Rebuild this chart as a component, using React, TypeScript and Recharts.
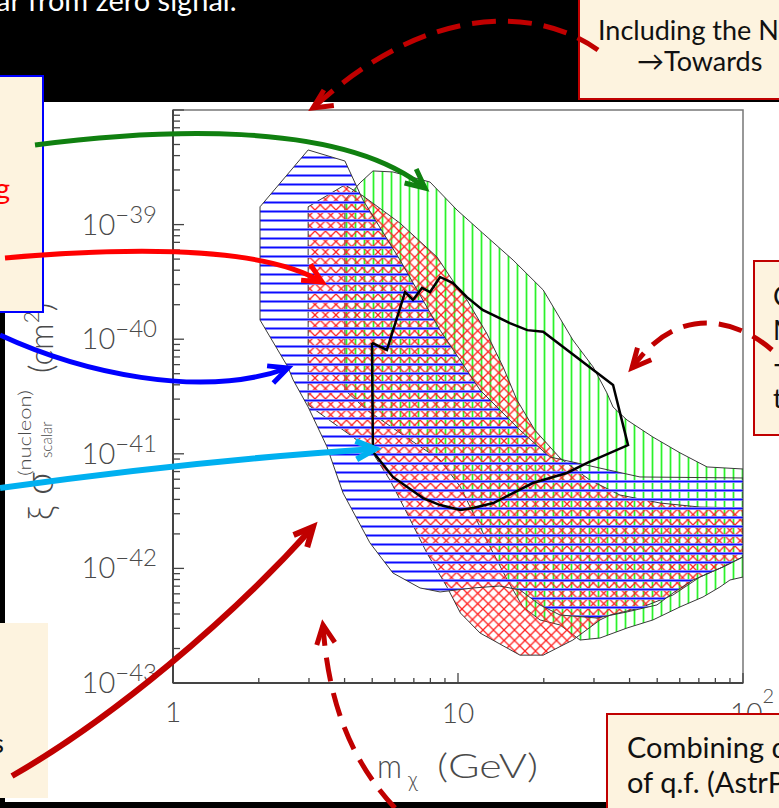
import React from "react";
import { ComposedChart, Scatter, XAxis, YAxis, ReferenceArea } from "recharts";

// region outlines: m = WIMP mass (GeV), s = xi * sigma (cm^2)
const greenRegion = [
  { m: 4.01, s: 1.64e-39 }, { m: 4.53, s: 2.31e-39 }, { m: 5.03, s: 2.94e-39 }, { m: 5.91, s: 2.88e-39 },
  { m: 7.98, s: 2.35e-39 }, { m: 9.92, s: 1.34e-39 }, { m: 12.2, s: 8.45e-40 }, { m: 15.6, s: 4.91e-40 },
  { m: 19.9, s: 2.69e-40 }, { m: 25.3, s: 9.84e-41 }, { m: 29.8, s: 5.72e-41 }, { m: 33.3, s: 3.4e-41 },
  { m: 35.0, s: 2.56e-41 }, { m: 39.2, s: 1.97e-41 }, { m: 48.3, s: 1.4e-41 }, { m: 60.1, s: 1.02e-41 },
  { m: 74.8, s: 7.68e-42 }, { m: 100, s: 7.37e-42 }, { m: 100, s: 8.41e-43 }, { m: 90.0, s: 7.92e-43 },
  { m: 83.0, s: 6.88e-43 }, { m: 72.4, s: 5.63e-43 }, { m: 60.1, s: 4.61e-43 }, { m: 48.3, s: 3.55e-43 },
  { m: 39.2, s: 3.02e-43 }, { m: 31.5, s: 2.47e-43 }, { m: 26.8, s: 2.37e-43 }, { m: 22.8, s: 3.21e-43 },
  { m: 19.4, s: 3.55e-43 }, { m: 16.9, s: 4.61e-43 }, { m: 14.9, s: 7.92e-43 }, { m: 12.95, s: 1.54e-42 },
  { m: 11.3, s: 3.04e-42 }, { m: 10.2, s: 5.13e-42 }, { m: 8.65, s: 8.83e-42 }, { m: 6.26, s: 1.52e-41 },
  { m: 4.79, s: 2.41e-41 }, { m: 4.01, s: 3.6e-41 }, { m: 4.01, s: 1.64e-39 },
];

const redRegion = [
  { m: 2.98, s: 1.43e-39 }, { m: 4.01, s: 2.22e-39 }, { m: 4.64, s: 1.78e-39 }, { m: 6.26, s: 1.03e-39 },
  { m: 8.44, s: 5.21e-40 }, { m: 9.92, s: 2.85e-40 }, { m: 10.75, s: 2.2e-40 }, { m: 12.6, s: 1.13e-40 },
  { m: 14.4, s: 5.72e-41 }, { m: 16.1, s: 2.95e-41 }, { m: 18.6, s: 1.61e-41 }, { m: 22.8, s: 9.19e-42 },
  { m: 29.0, s: 5.91e-42 }, { m: 37.0, s: 4.37e-42 }, { m: 51.2, s: 3.72e-42 }, { m: 70.6, s: 3.43e-42 },
  { m: 100, s: 3.37e-42 }, { m: 100, s: 1.26e-42 }, { m: 85.1, s: 1.03e-42 }, { m: 70.6, s: 8.41e-43 },
  { m: 56.8, s: 5.86e-43 }, { m: 43.5, s: 4.51e-43 }, { m: 34.2, s: 3.92e-43 }, { m: 31.5, s: 3.55e-43 },
  { m: 25.3, s: 2.37e-43 }, { m: 19.9, s: 1.75e-43 }, { m: 16.5, s: 1.75e-43 }, { m: 11.95, s: 2.73e-43 },
  { m: 10.2, s: 4.08e-43 }, { m: 9.15, s: 6.88e-43 }, { m: 7.78, s: 1.36e-42 }, { m: 6.62, s: 3.04e-42 },
  { m: 5.77, s: 5.91e-42 }, { m: 4.99, s: 1.04e-41 }, { m: 4.28, s: 1.4e-41 }, { m: 2.98, s: 2.67e-41 },
  { m: 2.98, s: 1.43e-39 },
];

const blueRegion = [
  { m: 2.98, s: 4.48e-39 }, { m: 4.01, s: 3.59e-39 }, { m: 4.64, s: 1.64e-39 }, { m: 6.26, s: 4.91e-40 },
  { m: 8.65, s: 1.2e-40 }, { m: 11.95, s: 3.6e-41 }, { m: 16.5, s: 1.61e-41 }, { m: 21.0, s: 9.38e-42 },
  { m: 43.5, s: 6.28e-42 }, { m: 100, s: 6.15e-42 }, { m: 100, s: 1.26e-42 }, { m: 85.1, s: 1.03e-42 },
  { m: 66.8, s: 7.92e-43 }, { m: 56.8, s: 6.1e-43 }, { m: 49.9, s: 4.8e-43 }, { m: 39.2, s: 4.17e-43 },
  { m: 30.7, s: 3.69e-43 }, { m: 22.8, s: 3.92e-43 }, { m: 19.4, s: 4.8e-43 }, { m: 16.5, s: 6.49e-43 },
  { m: 14.0, s: 7.02e-43 }, { m: 11.3, s: 6.75e-43 }, { m: 8.65, s: 6.23e-43 }, { m: 7.36, s: 6.75e-43 },
  { m: 5.91, s: 9.12e-43 }, { m: 4.91, s: 1.67e-42 }, { m: 3.95, s: 4.55e-42 }, { m: 3.47, s: 1.15e-41 },
  { m: 2.98, s: 2.56e-41 }, { m: 2.64, s: 4.41e-41 }, { m: 2.53, s: 5.72e-41 }, { m: 2.02, s: 1.47e-40 },
  { m: 2.02, s: 1.43e-39 }, { m: 2.98, s: 4.48e-39 },
];

const blackContour = [
  { m: 4.99, s: 9.27e-41 }, { m: 5.63, s: 8.05e-41 }, { m: 6.52, s: 2.58e-40 }, { m: 6.95, s: 2.2e-40 },
  { m: 7.48, s: 2.8e-40 }, { m: 7.98, s: 2.58e-40 }, { m: 8.65, s: 3.49e-40 }, { m: 9.6, s: 3.09e-40 },
  { m: 10.75, s: 2.33e-40 }, { m: 12.2, s: 1.8e-40 }, { m: 15.2, s: 1.38e-40 }, { m: 17.5, s: 1.2e-40 },
  { m: 19.9, s: 1.16e-40 }, { m: 35.0, s: 3.98e-41 }, { m: 39.5, s: 1.19e-41 }, { m: 28.4, s: 8.32e-42 },
  { m: 24.1, s: 6.8e-42 }, { m: 18.3, s: 5.56e-42 }, { m: 13.3, s: 3.72e-42 }, { m: 11.3, s: 3.37e-42 },
  { m: 10.2, s: 3.24e-42 }, { m: 8.65, s: 3.57e-42 }, { m: 7.54, s: 4.11e-42 }, { m: 5.91, s: 6.28e-42 },
  { m: 5.03, s: 1.04e-41 }, { m: 4.99, s: 9.27e-41 },
];

const xTicks = [1, 2, 3, 4, 5, 6, 7, 8, 9, 10, 20, 30, 40, 50, 60, 70, 80, 90, 100];
const yDecades = [1e-43, 1e-42, 1e-41, 1e-40, 1e-39];
const minorSteps = [2, 3, 4, 5, 6, 7, 8, 9];
const yTicks = [...yDecades.flatMap((d) => [d, ...minorSteps.map((k) => k * d)]), 1e-38];

const FONT = "Lato, 'DejaVu Sans', sans-serif";
const INK = "#4a4a4a";
const CREAM = "#fdf3df";
const DARKRED = "#c00000";

const isDecade = (v: number) => {
  const lg = Math.log10(v);
  return Math.abs(lg - Math.round(lg)) < 1e-6;
};

const XTick = (props: any) => {
  const { x, y, payload } = props;
  const v = payload.value;
  const major = isDecade(v);
  return (
    <g fontFamily={FONT} fontWeight={300} fill={INK}>
      <line x1={x} x2={x} y1={y} y2={y - (major ? 10 : 5)} stroke="#444" strokeWidth={1.3} />
      {v === 1 && (
        <text x={x} y={y + 39} textAnchor="middle" fontSize={28}>1</text>
      )}
      {v === 10 && (
        <text x={x} y={y + 40} textAnchor="middle" fontSize={28}>10</text>
      )}
      {v === 100 && (
        <text x={x - 13} y={y + 40} fontSize={28}>
          10<tspan dy={-20} fontSize={20}>2</tspan>
        </text>
      )}
    </g>
  );
};

const YTick = (props: any) => {
  const { x, y, payload } = props;
  const v = payload.value;
  const major = isDecade(v);
  const e = Math.round(Math.log10(v));
  return (
    <g>
      <line x1={x} x2={x + (major ? 11 : 7)} y1={y} y2={y} stroke="#444" strokeWidth={1.3} />
      {major && e < -38 && (
        <text x={x - 16} y={y + 10} textAnchor="end" fontSize={29} fill={INK} fontFamily={FONT} fontWeight={300}>
          10<tspan dy={-12} fontSize={24}>{"\u2212" + Math.abs(e)}</tspan>
        </text>
      )}
    </g>
  );
};

const XLabel = () => (
  <text y={778} fill={INK} fontFamily={FONT} fontWeight={300} fontSize={34}>
    <tspan x={377} textLength={25} lengthAdjust="spacingAndGlyphs">m</tspan>
    <tspan x={408} dy={9} fontSize={21}>χ</tspan>
    <tspan x={437} dy={-9} textLength={101} lengthAdjust="spacingAndGlyphs">(GeV)</tspan>
  </text>
);

const YLabel = () => (
  <g transform="translate(53,520) rotate(-90)" fill={INK} fontFamily={FONT} fontWeight={300}>
    <text x={0} y={0} fontSize={35}>ξ</text>
    <text x={25} y={0} fontSize={40}>σ</text>
    <text x={44} y={-22} fontSize={17} textLength={86} lengthAdjust="spacingAndGlyphs">(nucleon)</text>
    <text x={62} y={-1} fontSize={15}>scalar</text>
    <text x={147} y={0} fontSize={33}>
      (cm<tspan dy={-14} fontSize={21}>2</tspan><tspan dy={14}>)</tspan>
    </text>
  </g>
);

const NoDot = () => <g />;

const polygon = (fill: string) => ({ fill, stroke: "#3a3a3a", strokeWidth: 1 });

const arrows = [
  { d: "M35,145 C150,130 340,118 425,188", tip: [425, 188], from: [340, 118], color: "#108010", w: 5 },
  { d: "M5,258 C120,248 260,245 322,282", tip: [322, 282], from: [260, 245], color: "#ff0000", w: 5 },
  { d: "M0,335 C80,372 200,400 288,368", tip: [288, 368], from: [200, 400], color: "#0000ff", w: 5 },
  { d: "M0,488 Q200,460 375,449", tip: [375, 449], from: [200, 460], color: "#00b0f0", w: 6 },
  { d: "M12,776 C110,720 230,620 313,527", tip: [313, 527], from: [230, 620], color: DARKRED, w: 6 },
  { d: "M598,50 C540,8 430,0 313,108", tip: [313, 108], from: [330, 97], color: DARKRED, w: 5, dash: "24 12" },
  { d: "M772,350 C740,322 680,300 632,368", tip: [632, 368], from: [645, 353], color: DARKRED, w: 5, dash: "24 12" },
  { d: "M395,808 C350,760 328,700 323,625", tip: [323, 625], from: [326, 645], color: DARKRED, w: 5, dash: "24 12" },
];

const head = (tip: number[], from: number[], len = 21, ang = 0.45) => {
  const a = Math.atan2(tip[1] - from[1], tip[0] - from[0]);
  const p1 = [tip[0] - len * Math.cos(a - ang), tip[1] - len * Math.sin(a - ang)];
  const p2 = [tip[0] - len * Math.cos(a + ang), tip[1] - len * Math.sin(a + ang)];
  return `M${p1[0]},${p1[1]} L${tip[0]},${tip[1]} L${p2[0]},${p2[1]}`;
};

const boxText: React.CSSProperties = {
  position: "absolute",
  fontFamily: FONT,
  fontSize: 27,
  color: "#111",
  whiteSpace: "nowrap",
  lineHeight: 1,
};

export default function App() {
  return (
    <div
      style={{
        position: "absolute",
        left: 0,
        top: 0,
        width: 779,
        height: 808,
        overflow: "hidden",
        background: "#000",
      }}
    >
      <svg width={0} height={0} style={{ position: "absolute" }}>
        <defs>
          <pattern id="hatchBlue" patternUnits="userSpaceOnUse" width={12} height={9}>
            <line x1={0} x2={12} y1={4.5} y2={4.5} stroke="#9a9aff" strokeWidth={2.8} />
            <line x1={0} x2={12} y1={4.5} y2={4.5} stroke="#0c0cff" strokeWidth={1.4} />
          </pattern>
          <pattern id="hatchGreen" patternUnits="userSpaceOnUse" width={9} height={12}>
            <line x1={4.5} x2={4.5} y1={0} y2={12} stroke="#b4ffb4" strokeWidth={2.6} />
            <line x1={4.5} x2={4.5} y1={0} y2={12} stroke="#2cf02c" strokeWidth={1.3} />
          </pattern>
          <pattern id="hatchRed" patternUnits="userSpaceOnUse" width={10.5} height={10.5}>
            <path d="M-1,-1 L11.5,11.5 M11.5,-1 L-1,11.5" stroke="#ff2020" strokeWidth={1.3} />
          </pattern>
        </defs>
      </svg>

      <div
        style={{
          position: "absolute",
          left: -4,
          top: -15,
          color: "#fff",
          fontFamily: FONT,
          fontSize: 29,
          lineHeight: "30px",
          whiteSpace: "nowrap",
        }}
      >
        ar from zero signal.
      </div>

      <div style={{ position: "absolute", left: 5, top: 102, width: 774, height: 700, background: "#fff" }} />

      <div style={{ position: "absolute", left: 0, top: 0 }}>
        <ComposedChart width={779} height={808} margin={{ top: 110, right: 36, bottom: 65, left: 73 }}>
          <XAxis
            type="number"
            dataKey="m"
            scale="log"
            domain={[1, 100]}
            allowDataOverflow
            ticks={xTicks}
            interval={0}
            tickSize={0}
            tickMargin={0}
            tickLine={false}
            tick={<XTick />}
            axisLine={{ stroke: "#444", strokeWidth: 2 }}
            height={60}
            label={() => <XLabel />}
          />
          <YAxis
            type="number"
            dataKey="s"
            scale="log"
            domain={[1e-43, 1e-38]}
            allowDataOverflow
            ticks={yTicks}
            interval={0}
            tickSize={0}
            tickMargin={0}
            tickLine={false}
            tick={<YTick />}
            axisLine={{ stroke: "#444", strokeWidth: 2 }}
            width={100}
            label={() => <YLabel />}
          />
          <ReferenceArea x1={1} x2={100} y1={1e-43} y2={1e-38} fill="none" stroke="#777" strokeWidth={1.5} />
          <Scatter data={greenRegion} line={polygon("url(#hatchGreen)")} shape={<NoDot />} isAnimationActive={false} />
          <Scatter data={redRegion} line={polygon("url(#hatchRed)")} shape={<NoDot />} isAnimationActive={false} />
          <Scatter data={blueRegion} line={polygon("url(#hatchBlue)")} shape={<NoDot />} isAnimationActive={false} />
          <Scatter
            data={blackContour}
            line={{ fill: "none", stroke: "#000", strokeWidth: 2.5 }}
            shape={<NoDot />}
            isAnimationActive={false}
          />
        </ComposedChart>
      </div>

      {/* annotation boxes from the slide */}
      <div
        style={{
          position: "absolute",
          left: -2,
          top: 75,
          width: 42,
          height: 234,
          background: CREAM,
          border: "2px solid #0000ff",
          overflow: "hidden",
        }}
      >
        <div style={{ ...boxText, fontSize: 29, color: "#ff0000", right: 32, top: 96, textAlign: "right" }}>Including</div>
      </div>
      <div style={{ position: "absolute", left: 0, top: 623, width: 48, height: 175, background: CREAM, overflow: "hidden" }}>
        <div style={{ ...boxText, right: 44, top: 106 }}>effects</div>
      </div>
      <div
        style={{
          position: "absolute",
          left: 578,
          top: -4,
          width: 260,
          height: 100,
          background: CREAM,
          border: `2px solid ${DARKRED}`,
        }}
      >
        <div style={{ ...boxText, left: 18, top: 18 }}>Including the NaI data</div>
        <div style={{ ...boxText, left: 57, top: 49 }}>→Towards</div>
      </div>
      <div
        style={{
          position: "absolute",
          left: 753,
          top: 260,
          width: 200,
          height: 172,
          background: CREAM,
          border: `2px solid ${DARKRED}`,
        }}
      >
        <div style={{ ...boxText, left: 18, top: 20 }}>CoGeNT</div>
        <div style={{ ...boxText, left: 18, top: 54 }}>Modulation</div>
        <div style={{ ...boxText, left: 18, top: 88 }}>→</div>
        <div style={{ ...boxText, left: 18, top: 122 }}>towards</div>
      </div>
      <div
        style={{
          position: "absolute",
          left: 606,
          top: 713,
          width: 300,
          height: 120,
          background: CREAM,
          border: `2px solid ${DARKRED}`,
        }}
      >
        <div style={{ ...boxText, fontSize: 29, left: 19, top: 17 }}>Combining different</div>
        <div style={{ ...boxText, fontSize: 29, left: 19, top: 52 }}>of q.f. (AstrPart)</div>
      </div>

      <svg width={779} height={808} style={{ position: "absolute", left: 0, top: 0, pointerEvents: "none" }}>
        {arrows.map((a, i) => (
          <g key={i} stroke={a.color} strokeWidth={a.w} fill="none" strokeLinejoin="miter">
            <path d={a.d} strokeDasharray={a.dash} />
            <path d={head(a.tip, a.from)} />
          </g>
        ))}
      </svg>
    </div>
  );
}
